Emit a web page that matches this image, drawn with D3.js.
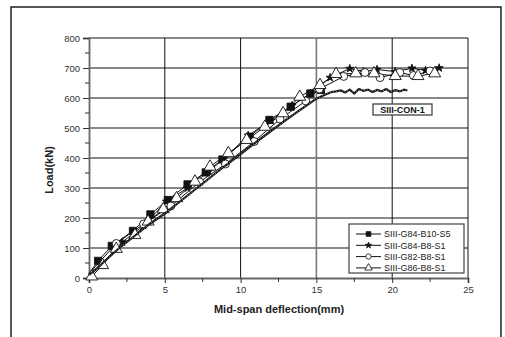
<!DOCTYPE html>
<html><head><meta charset="utf-8">
<script src="https://cdn.jsdelivr.net/npm/d3@7"></script>
<style>body{margin:0;background:#fff}svg{display:block}</style>
</head><body><svg id="c" width="505" height="337"></svg>
<script>
// ---- data ----
const xTicks = [0,5,10,15,20,25];
const yTicks = [0,100,200,300,400,500,600,700,800];
const seriesNames = ["SIII-G84-B10-S5","SIII-G84-B8-S1","SIII-G82-B8-S1","SIII-G86-B8-S1"];
const conLabel = "SIII-CON-1";
const xTitle = "Mid-span deflection(mm)";
const yTitle = "Load(kN)";

const conX = [0,0.5,1,2,3,4,5,6,7,8,9,10,11,12,13,14,15,15.6,16,16.3,16.6,16.9,17.2,17.5,17.8,18.1,18.4,18.7,19,19.3,19.6,19.9,20.2,20.5,20.8,21];
const conY = [10,30,55,100,140,180,215,255,295,335,375,413,452,490,527,563,598,612,620,622,625,618,628,615,630,624,628,620,627,622,630,620,626,622,628,625];

const sqX = [0.6,1.5,2.9,4.05,5.2,6.5,7.7,8.8,10.6,11.9,13.3,14.6,15.3];
const sqY = [57,107,157,212,260,312,352,395,471,527,571,615,627];

const stX = [0.8,2.2,3.6,5.1,6.5,7.9,8.9,10.5,12,13.4,14.6,15.9,17.2,18.1,19,20.2,21.3,22.2,23.1];
const stY = [45,120,175,255,300,355,398,475,525,575,615,668,698,688,695,688,699,692,700];

const ciX = [1.8,3.6,5.4,7.3,9.0,10.9,12.6,14.3,15.2,16.8,18.2,19.2,20.5,21.4,22.5];
const ciY = [115,180,240,320,380,455,530,590,630,672,685,668,685,675,690];

const trX = [0.18,0.9,1.8,3.03,3.9,4.9,5.78,6.99,7.98,9.19,10.4,11.6,12.8,13.9,15.24,16.3,17.6,18.8,20.2,21.7,22.8];
const trY = [5,43,97,143,188,229,266,321,371,416,460,504,549,604,643,680,682,682,673,673,682];

// ---- layout ----
const svg = d3.select("#c");
const X0=89, X1=468, Y0=278, Y1=38;
const x = d3.scaleLinear().domain([0,25]).range([X0,X1]);
const y = d3.scaleLinear().domain([0,800]).range([Y0,Y1]);
const font = "Liberation Sans, Arial, sans-serif";

svg.append("rect").attr("x",11).attr("y",7).attr("width",490).attr("height",340)
  .attr("fill","none").attr("stroke","#222").attr("stroke-width",1.5);

svg.append("g").selectAll("line").data(yTicks.filter(d=>d>0)).join("line")
  .attr("x1",X0).attr("x2",X1).attr("y1",d=>y(d)).attr("y2",d=>y(d))
  .attr("stroke","#111").attr("stroke-width",1);
svg.append("g").selectAll("line").data(xTicks.filter(d=>d>0)).join("line")
  .attr("x1",d=>x(d)).attr("x2",d=>x(d)).attr("y1",Y0).attr("y2",Y1)
  .attr("stroke",d=>d===15?"#777":"#111").attr("stroke-width",d=>d===15?1.6:1);

const xAxis = d3.axisBottom(x).tickValues(xTicks).tickSize(5).tickPadding(3);
const gx = svg.append("g").attr("transform",`translate(0,${Y0})`).call(xAxis);
const yAxis = d3.axisLeft(y).tickValues(yTicks).tickSize(6).tickPadding(3);
const gy = svg.append("g").attr("transform",`translate(${X0},0)`).call(yAxis);
[gx,gy].forEach(g=>{
  g.select(".domain").attr("stroke","#666").attr("stroke-width",1.8);
  g.selectAll(".tick line").attr("stroke","#333");
  g.selectAll("text").attr("font-family",font).attr("font-size",9.5).attr("fill","#333");
});
svg.append("g").selectAll("line").data(d3.range(2.5,25,5)).join("line")
  .attr("x1",d=>x(d)).attr("x2",d=>x(d)).attr("y1",Y0).attr("y2",Y0+4).attr("stroke","#333");
svg.append("g").selectAll("line").data(d3.range(50,800,100)).join("line")
  .attr("x1",X0-4).attr("x2",X0).attr("y1",d=>y(d)).attr("y2",d=>y(d)).attr("stroke","#333");

svg.append("text").attr("x",279).attr("y",313).attr("text-anchor","middle")
  .attr("font-family",font).attr("font-size",11).attr("font-weight","bold").attr("fill","#222").text(xTitle);
svg.append("text").attr("transform","translate(53,170) rotate(-90)").attr("text-anchor","middle")
  .attr("font-family",font).attr("font-size",11).attr("font-weight","bold").attr("fill","#222").text(yTitle);

const line = d3.line().x(d=>x(d[0])).y(d=>y(d[1]));
const zip = (a,b)=>a.map((v,i)=>[v,b[i]]);
const plot = svg.append("g");

const sym = {
  sq: d3.symbol().type(d3.symbolSquare).size(52),
  st: d3.symbol().type(d3.symbolStar).size(20),
  ci: d3.symbol().type(d3.symbolCircle).size(50),
  tr: d3.symbol().type(d3.symbolTriangle).size(62)
};
const series = [
  {k:"sq", xs:sqX, ys:sqY, fill:"#111"},
  {k:"st", xs:stX, ys:stY, fill:"#111"},
  {k:"ci", xs:ciX, ys:ciY, fill:"#fff"},
  {k:"tr", xs:trX, ys:trY, fill:"#fff"}
];
series.forEach(s=>{
  plot.append("path").datum([[0,15]].concat(zip(s.xs,s.ys))).attr("d",line).attr("fill","none")
    .attr("stroke","#111").attr("stroke-width",1);
});
series.forEach(s=>{
  plot.append("g").selectAll("path").data(zip(s.xs,s.ys)).join("path")
    .attr("d",sym[s.k]).attr("transform",d=>`translate(${x(d[0])},${y(d[1])})`)
    .attr("fill",s.fill).attr("stroke","#111").attr("stroke-width",0.9);
});
plot.append("path").datum(zip(conX,conY)).attr("d",line).attr("fill","none")
  .attr("stroke","#111").attr("stroke-width",2.2);
plot.append("path").datum(zip(conX,conY)).attr("d",line).attr("fill","none")
  .attr("stroke","#fff").attr("stroke-width",0.6).attr("stroke-dasharray","1 2");

const lb = svg.append("g");
lb.append("rect").attr("x",373).attr("y",104).attr("width",59).attr("height",11)
  .attr("fill","#fff").attr("stroke","#444").attr("stroke-width",1.3);
lb.append("text").attr("x",402.5).attr("y",113).attr("text-anchor","middle")
  .attr("font-family",font).attr("font-size",9).attr("font-weight","bold").attr("fill","#111").text(conLabel);

const lg = svg.append("g");
lg.append("rect").attr("x",349).attr("y",224).attr("width",115).attr("height",49)
  .attr("fill","#fff").attr("stroke","#444").attr("stroke-width",1.2);
const legSym = {
  sq: d3.symbol().type(d3.symbolSquare).size(22),
  st: d3.symbol().type(d3.symbolStar).size(12),
  ci: d3.symbol().type(d3.symbolCircle).size(22),
  tr: d3.symbol().type(d3.symbolTriangle).size(24)
};
series.forEach((s,i)=>{
  const yy = 234 + i*11.3;
  lg.append("line").attr("x1",356).attr("x2",381).attr("y1",yy).attr("y2",yy).attr("stroke","#111");
  lg.append("path").attr("d",legSym[s.k]).attr("transform",`translate(368.5,${yy})`)
    .attr("fill",s.fill).attr("stroke","#111").attr("stroke-width",0.8);
  lg.append("text").attr("x",384).attr("y",yy+3.3).attr("font-family",font).attr("font-size",9)
    .attr("fill","#222").text(seriesNames[i]);
});
</script></body></html>
